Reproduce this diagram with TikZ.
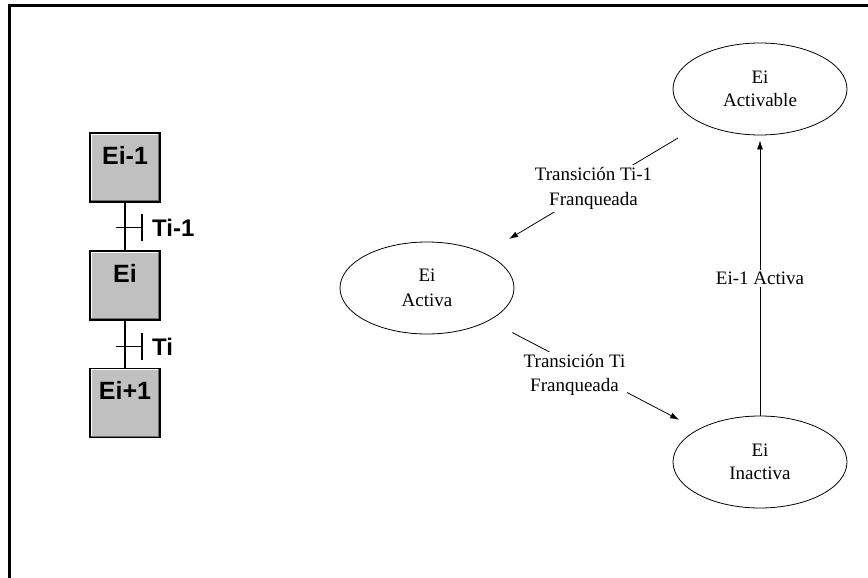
\documentclass[tikz,border=0pt]{standalone}
\usepackage{fontspec}
\setmainfont{Liberation Serif}
\newfontfamily\grafsans{Liberation Sans}
\usetikzlibrary{shapes.geometric,arrows.meta}
\definecolor{boxgray}{RGB}{192,192,192}
\definecolor{shadegray}{RGB}{110,110,110}
\begin{document}
\begin{tikzpicture}[x=1pt,y=-1pt,
  bevel/.style={path picture={
      \draw[white,line width=3.5pt] (path picture bounding box.south west) -- (path picture bounding box.north west) -- (path picture bounding box.north east);
      \draw[shadegray,line width=3.5pt] (path picture bounding box.south west) -- (path picture bounding box.south east) -- (path picture bounding box.north east);
  }},
  stepbox/.style={draw=black, line width=1.5pt, fill=boxgray, bevel,
      minimum width=70pt, inner sep=0pt, text height=31pt, text depth=38pt,
      font=\grafsans\bfseries\fontsize{25}{25}\selectfont},
  link/.style={line width=1.8pt},
  translabel/.style={inner sep=0pt, anchor=west, font=\grafsans\bfseries\fontsize{24}{24}\selectfont},
  state/.style={ellipse, draw, line width=0.8pt, minimum width=174pt, minimum height=92pt,
      inner sep=0pt, align=center},
  edgetext/.style={fill=white, inner sep=2pt, align=center},
  arr/.style={line width=0.8pt, -{Latex[length=9pt,width=6pt]}}
]
\useasboundingbox (0,0) rectangle (868,578);
% frame (top and left edges)
\draw[line width=3pt] (9.8,578) -- (9.8,5.6) -- (868,5.6);

% GRAFCET column
\node[stepbox] (e1) at (125,167.5) {Ei-1};
\node[stepbox] (e2) at (125,285.5) {Ei};
\node[stepbox] (e3) at (125,403) {Ei+1};
\draw[link] (e1) -- (e2);
\draw[link] (e2) -- (e3);
\coordinate (t1) at (125,227.5);
\coordinate (t2) at (125,346.5);
\draw[link] ([xshift=-9pt]t1) -- ([xshift=17pt]t1);
\draw[link] ([shift={(17pt,-13.5pt)}]t1) -- ([shift={(17pt,13.5pt)}]t1);
\draw[link] ([xshift=-9pt]t2) -- ([xshift=17pt]t2);
\draw[link] ([shift={(17pt,-13.5pt)}]t2) -- ([shift={(17pt,13.5pt)}]t2);
\node[translabel] (lt1) at (152,228) {Ti-1};
\node[translabel] (lt2) at (152,347) {Ti};

% state diagram
\node[state, font=\fontsize{19}{22.5}\selectfont] (act) at (760,89) {Ei\\Activable};
\node[state, font=\fontsize{19}{25}\selectfont] (activa) at (427,288) {Ei\\Activa};
\node[state, font=\fontsize{19}{22.5}\selectfont] (inact) at (760,462) {Ei\\Inactiva};

\draw[arr, shorten <=28pt, shorten >=28pt] (act) -- (activa)
   node[edgetext, midway, font=\fontsize{19}{25}\selectfont] (lab1) {Transición Ti-1\\Franqueada};
\draw[arr, shorten <=26pt, shorten >=21pt] (activa) -- (inact)
   node[edgetext, midway, xshift=-19pt, font=\fontsize{19}{24}\selectfont] (lab2) {Transición Ti\\Franqueada};
\draw[arr, shorten >=5pt] (inact.north) -- (act.south)
   node[edgetext, pos=0.49, font=\fontsize{19}{22}\selectfont] (lab3) {Ei-1 Activa};
\end{tikzpicture}
\end{document}
